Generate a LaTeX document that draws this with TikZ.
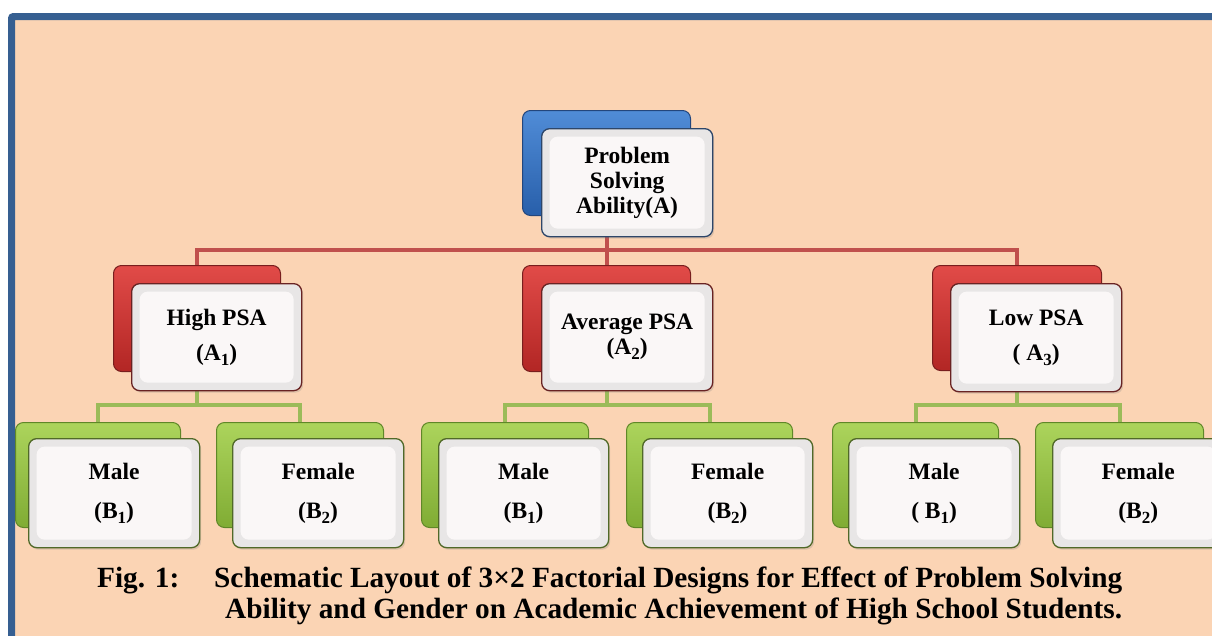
\documentclass[tikz,border=0pt]{standalone}
\usepackage{fontspec}
\setmainfont{Liberation Serif}
\usetikzlibrary{shadows}
\pgfdeclarelayer{backlayer}
\pgfdeclarelayer{linelayer}
\pgfsetlayers{backlayer,linelayer,main}
\definecolor{peach}{RGB}{251,212,180}
\definecolor{frameblue}{RGB}{54,95,145}
\definecolor{redline}{RGB}{192,80,77}
\definecolor{greenline}{RGB}{155,187,89}
\definecolor{bluetop}{RGB}{80,140,215}
\definecolor{bluebot}{RGB}{40,95,170}
\definecolor{blueedge}{RGB}{35,70,125}
\definecolor{redtop}{RGB}{225,75,72}
\definecolor{redbot}{RGB}{178,38,36}
\definecolor{rededge}{RGB}{120,30,30}
\definecolor{greentop}{RGB}{172,212,92}
\definecolor{greenbot}{RGB}{128,172,52}
\definecolor{greenedge}{RGB}{95,135,40}
\definecolor{fblue}{RGB}{45,70,105}
\definecolor{fred}{RGB}{105,35,35}
\definecolor{fgreen}{RGB}{80,105,40}
\definecolor{bevel}{RGB}{232,230,230}
\definecolor{facecol}{RGB}{250,247,247}
\newcommand{\mysub}[1]{\raisebox{-5pt}{\fontsize{17}{17}\selectfont #1}}
\begin{document}
\begin{tikzpicture}[x=1pt,y=-1pt,
  backbox/.style n args={3}{rounded corners=8pt, draw=#3, line width=1pt,
     top color=#1, bottom color=#2, inner sep=0pt, anchor=north west},
  blueback/.style={backbox={bluetop}{bluebot}{blueedge}},
  redback/.style={backbox={redtop}{redbot}{rededge}},
  greenback/.style={backbox={greentop}{greenbot}{greenedge}},
  frontbox/.style={rounded corners=8pt, draw=#1, line width=1.3pt, fill=bevel,
     inner sep=0pt, anchor=north west, align=center,
     font=\fontsize{23.5}{25}\selectfont\bfseries,
     drop shadow={opacity=0.25, shadow xshift=1.5pt, shadow yshift=-2pt},
     path picture={\fill[facecol] ([xshift=8pt,yshift=-8pt]path picture bounding box.north west)
        rectangle ([xshift=-8pt,yshift=8pt]path picture bounding box.south east);}},
  conn/.style={draw=#1, line width=4pt},
  capt/.style={inner sep=0pt, anchor=base west, font=\fontsize{29.3}{31}\selectfont\bfseries}
]
\useasboundingbox (0,0) rectangle (1212,635);
\clip (0,0) rectangle (1212,635);
\begin{pgfonlayer}{backlayer}
\fill[white] (0,0) rectangle (1212,635);
\draw[frameblue, line width=7pt, fill=peach, rounded corners=2pt] (11.5,16.5) rectangle (1240,680);
\end{pgfonlayer}

% top
\node[blueback, minimum width=168, minimum height=105] (topb) at (522,110) {};
\node[frontbox=fblue, minimum width=171, minimum height=108] (topf) at (541,128) {Problem\\Solving\\Ability(A)};

% second row
\node[redback, minimum width=167, minimum height=106] (hpb) at (113,265) {};
\node[frontbox=fred, minimum width=170, minimum height=107] (hpf) at (131,283) {High PSA\\[10pt](A\mysub{1})};
\node[redback, minimum width=168, minimum height=106] (apb) at (522,265) {};
\node[frontbox=fred, minimum width=171, minimum height=107] (apf) at (541,283) {Average PSA\\(A\mysub{2})};
\node[redback, minimum width=169, minimum height=105] (lpb) at (932,265) {};
\node[frontbox=fred, minimum width=171, minimum height=108] (lpf) at (950,283) {Low PSA\\[10pt]( A\mysub{3})};

% third row
\node[greenback, minimum width=165, minimum height=105] (m1b) at (15,422) {};
\node[frontbox=fgreen, minimum width=171, minimum height=109] (m1f) at (28,438) {Male\\[14pt](B\mysub{1})};
\node[greenback, minimum width=167, minimum height=105] (f1b) at (216,422) {};
\node[frontbox=fgreen, minimum width=171, minimum height=109] (f1f) at (232,438) {Female\\[14pt](B\mysub{2})};
\node[greenback, minimum width=167, minimum height=105] (m2b) at (421,422) {};
\node[frontbox=fgreen, minimum width=170, minimum height=109] (m2f) at (438,438) {Male\\[14pt](B\mysub{1})};
\node[greenback, minimum width=166, minimum height=105] (f2b) at (626,422) {};
\node[frontbox=fgreen, minimum width=170, minimum height=109] (f2f) at (642,438) {Female\\[14pt](B\mysub{2})};
\node[greenback, minimum width=166, minimum height=105] (m3b) at (832,422) {};
\node[frontbox=fgreen, minimum width=171, minimum height=109] (m3f) at (848,438) {Male\\[14pt]( B\mysub{1})};
\node[greenback, minimum width=168, minimum height=105] (f3b) at (1035,422) {};
\node[frontbox=fgreen, minimum width=171, minimum height=109] (f3f) at (1052,438) {Female\\[14pt](B\mysub{2})};

% connectors
\coordinate (rbus) at (0,250);
\coordinate (gbus) at (0,405);
\begin{pgfonlayer}{linelayer}
\draw[conn=redline] (topb.south) -- (apb.north);
\draw[conn=redline] (topb.south |- rbus) -| (hpb.north);
\draw[conn=redline] (topb.south |- rbus) -| (lpb.north);
\draw[conn=greenline] (hpb.south) -- (hpb.south |- gbus) -| (m1b.north);
\draw[conn=greenline] (hpb.south |- gbus) -| (f1b.north);
\draw[conn=greenline] (apb.south) -- (apb.south |- gbus) -| (m2b.north);
\draw[conn=greenline] (apb.south |- gbus) -| (f2b.north);
\draw[conn=greenline] (lpb.south) -- (lpb.south |- gbus) -| (m3b.north);
\draw[conn=greenline] (lpb.south |- gbus) -| (f3b.north);
\end{pgfonlayer}

% caption
\node[capt] (figlbl) at (97,587) {Fig. 1:};
\node[capt] (cap1) at (214,587) {Schematic Layout of 3×2 Factorial Designs for Effect of Problem Solving};
\node[capt] (cap2) at (225,618) {Ability and Gender on Academic Achievement of High School Students.};
\end{tikzpicture}
\end{document}
